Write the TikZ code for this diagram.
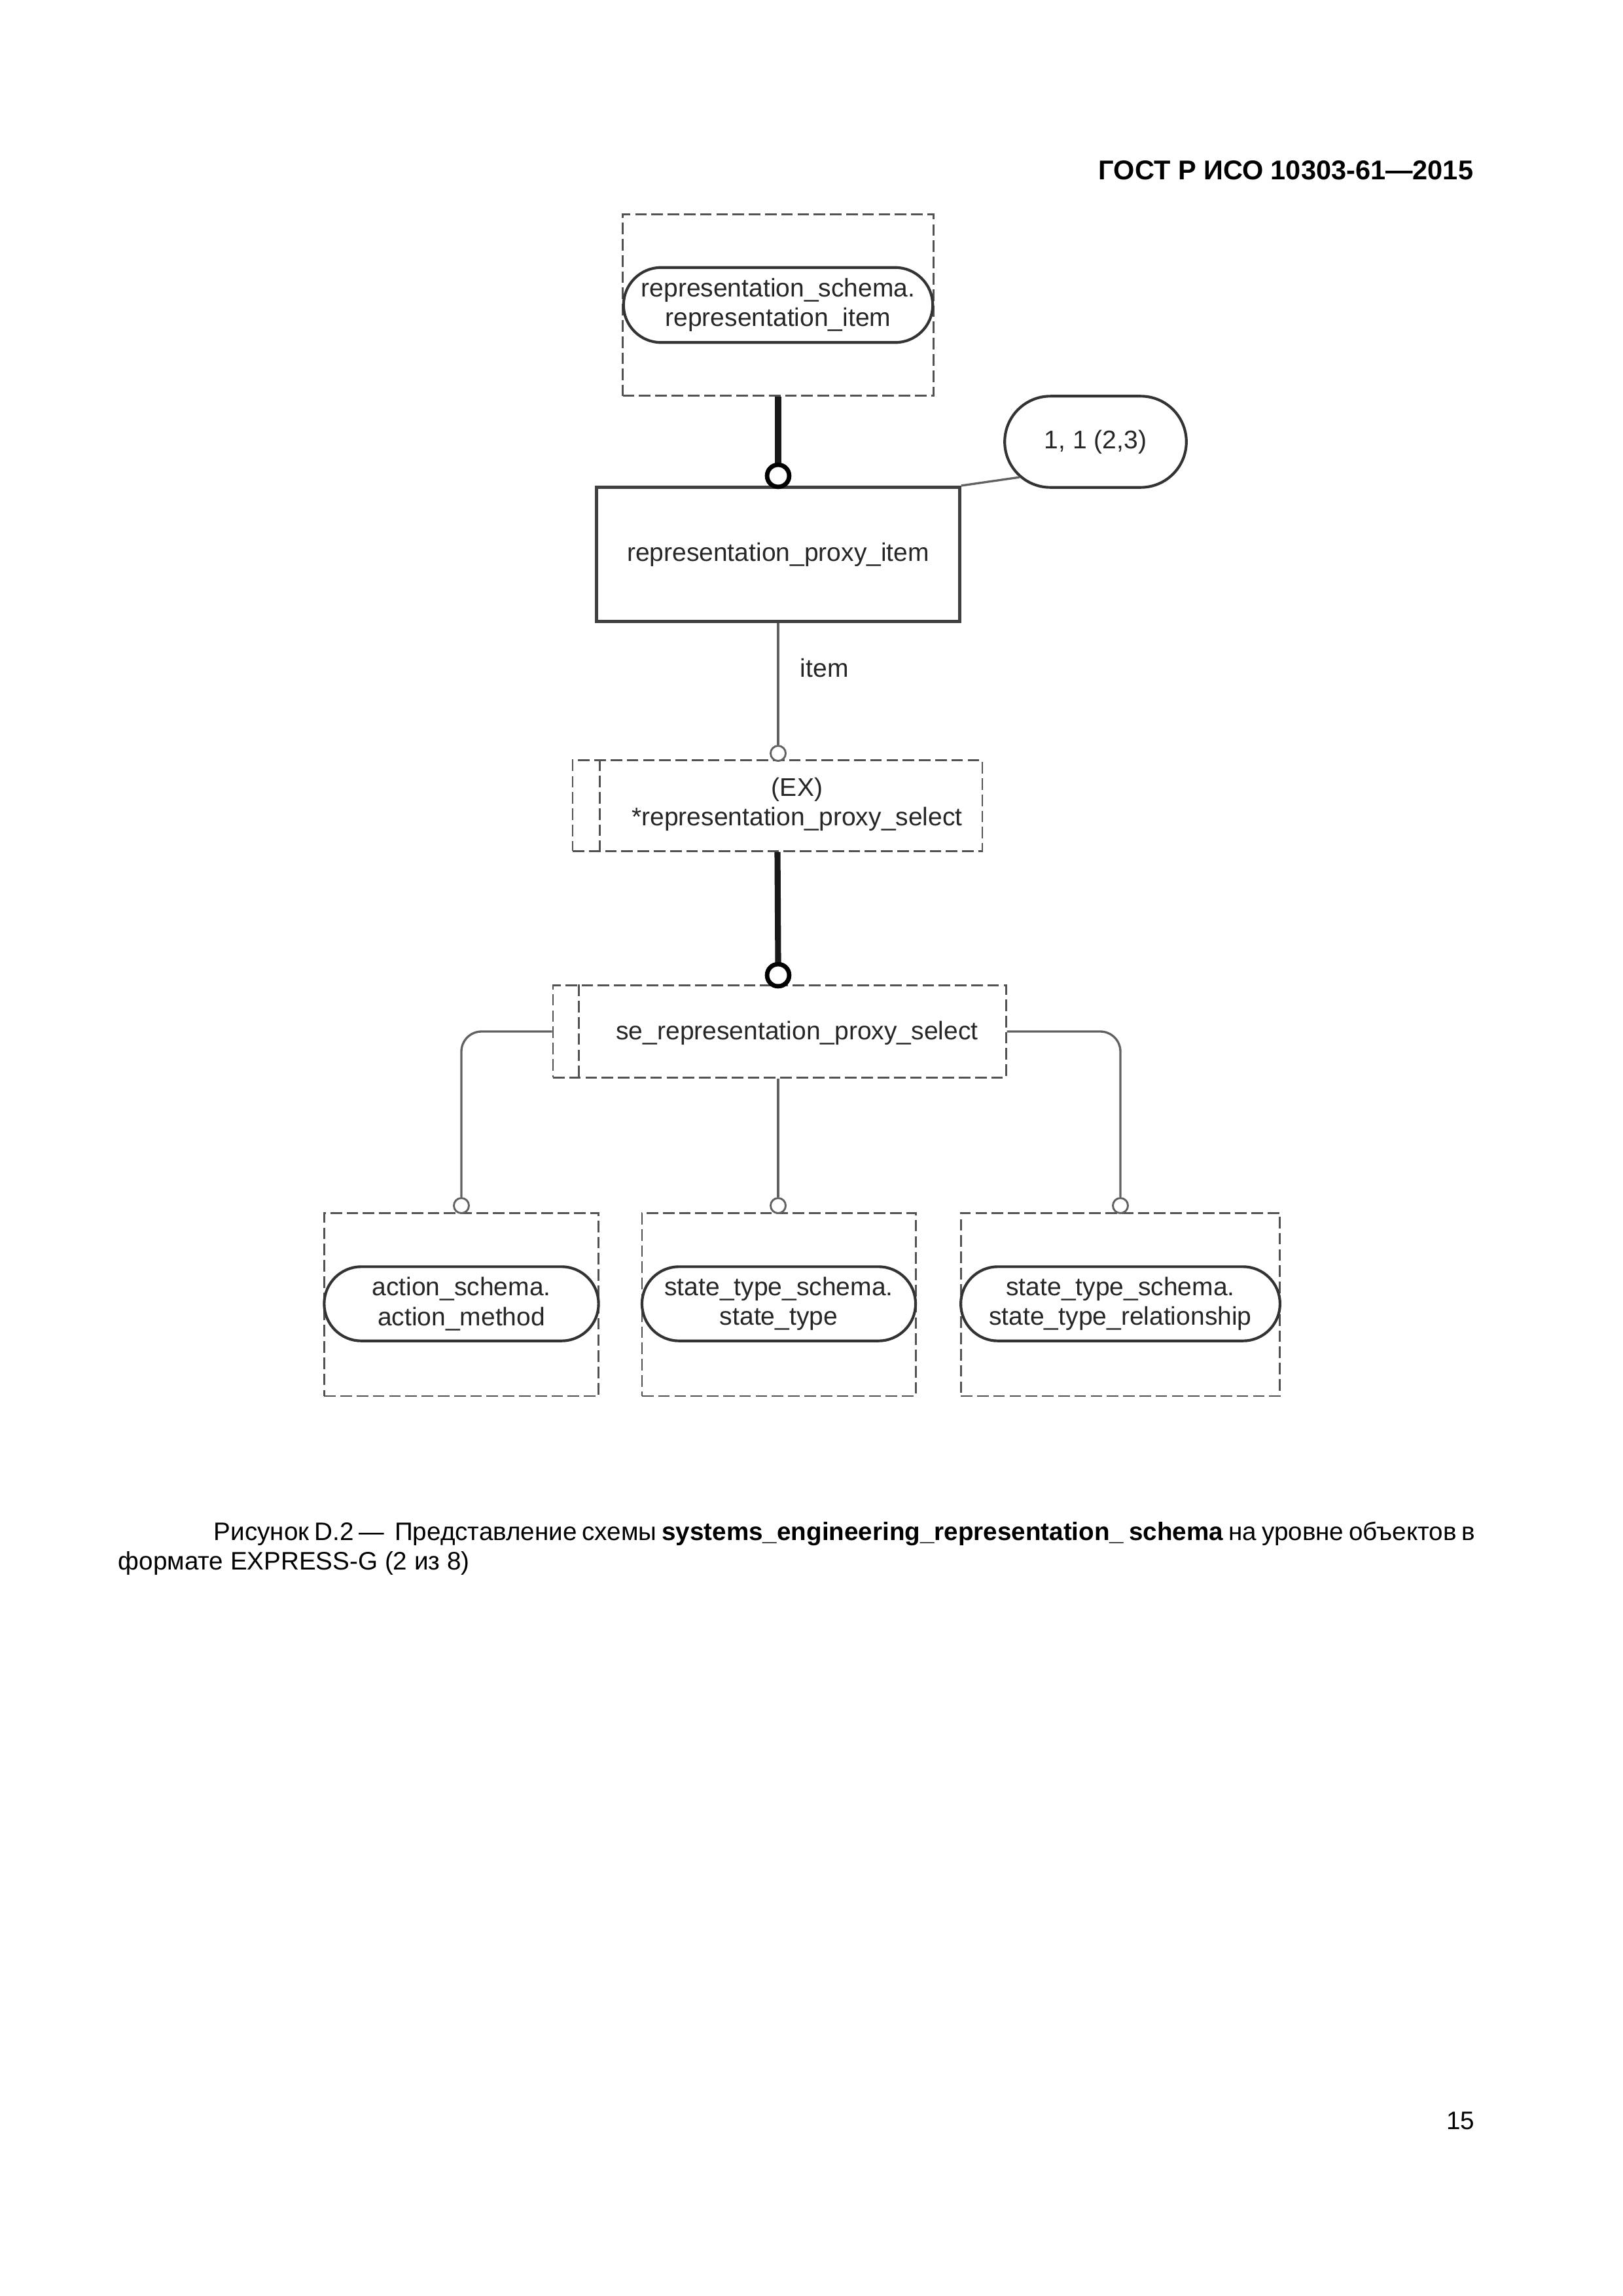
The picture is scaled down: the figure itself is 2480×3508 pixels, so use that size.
\documentclass[tikz,border=0pt]{standalone}
\usepackage{fontspec}
\setmainfont{Liberation Sans}
\usetikzlibrary{shapes.misc}
\definecolor{linegray}{gray}{0.38}
\definecolor{dashgray}{gray}{0.32}
\definecolor{txtgray}{gray}{0.15}

\begin{document}
\begin{tikzpicture}[x=0.0846667mm, y=0.0846667mm]
\tikzstyle{every node}+=[inner sep=0pt, font=\fontsize{9.4}{11}\selectfont, text=txtgray]
\tikzstyle{refbox}=[rectangle, draw=dashgray, line width=0.7pt, dash pattern=on 1.5mm off 0.6mm]
\tikzstyle{extent}=[rounded rectangle, draw=black!80, line width=1pt, align=center, fill=white]
\tikzstyle{entbox}=[rectangle, draw=black!75, line width=1.1pt]
\tikzstyle{conn}=[draw=linegray, line width=0.8pt]
\tikzstyle{thickconn}=[draw=black!90, line width=2.2pt]
\tikzstyle{bigo}=[circle, draw=black, line width=1.6pt, minimum size=2.85mm, fill=white]
\tikzstyle{smallo}=[circle, draw=linegray, line width=0.7pt, minimum size=1.95mm, fill=white]
\tikzstyle{captxt}=[text=black, font=\fontsize{9.3}{11}\selectfont]
\useasboundingbox (0,0) rectangle (2480,-3508);
% header
\node [anchor=base east, text=black, font=\fontsize{10}{12}\selectfont\bfseries] (hdr) at (2252,-274) {ГОСТ Р ИСО 10303-61—2015};
% representation_item
\node [refbox, minimum width=40.2mm, minimum height=23.5mm] (rsref) at (1189,-466) {};
\node [extent, minimum width=40.0mm, minimum height=9.7mm] (rsitem) at (1189,-466) {representation\_schema.\\representation\_item};
\node [bigo] (o1) at (1189,-727) {};
\draw [thickconn] (rsref.south) -- (o1.north);
% entity
\node [entbox, minimum width=47mm, minimum height=17.4mm] (proxy) at (1189,-847) {representation\_proxy\_item};
\node [bigo] at (o1) {};
\node [extent, minimum width=23.5mm, minimum height=11.8mm] (card) at (1674,-675) {1, 1 (2,3)};
\draw [conn] (proxy.north east) -- (card.205);
% item
\node [refbox, minimum width=53mm, minimum height=11.7mm] (exsel) at (1188,-1231) {};
\draw [refbox] ([xshift=3.64mm]exsel.north west) -- ([xshift=3.64mm]exsel.south west);
\node [align=center] (extext) at (1218,-1229) {(EX)\\*representation\_proxy\_select};
\node [smallo] (o2) at (1189,-1151) {};
\draw [conn] (proxy.south) -- (o2.north);
\node [anchor=west] (itemlbl) at (1222,-1021) {item};
% se select
\node [refbox, minimum width=58.6mm, minimum height=11.9mm] (sesel) at (1191,-1576) {};
\draw [refbox] ([xshift=3.5mm]sesel.north west) -- ([xshift=3.5mm]sesel.south west);
\node (setext) at (1218,-1578) {se\_representation\_proxy\_select};
\node [bigo] (o3) at (1189,-1490) {};
\draw [thickconn] (exsel.south) -- (o3.north);
\node [bigo] at (o3) {};
% lower references
\node [refbox, minimum width=35.5mm, minimum height=23.7mm] (amref) at (705,-1993) {};
\node [extent, minimum width=35.5mm, minimum height=9.6mm] (am) at (705,-1992) {action\_schema.\\action\_method};
\node [refbox, minimum width=35.4mm, minimum height=23.7mm] (stref) at (1190,-1993) {};
\node [extent, minimum width=35.4mm, minimum height=9.6mm] (st) at (1190,-1992) {state\_type\_schema.\\state\_type};
\node [refbox, minimum width=41.3mm, minimum height=23.7mm] (strref) at (1712,-1993) {};
\node [extent, minimum width=41.3mm, minimum height=9.6mm] (str) at (1712,-1992) {state\_type\_schema.\\state\_type\_relationship};
\node [smallo] (o4) at (705,-1842) {};
\node [smallo] (o5) at (1189,-1842) {};
\node [smallo] (o6) at (1712,-1842) {};
\draw [conn, rounded corners=2.6mm] (sesel.west) -| (o4.north);
\draw [conn] (sesel.south -| o5) -- (o5.north);
\draw [conn, rounded corners=2.6mm] (sesel.east) -| (o6.north);
% caption
\node [captxt, anchor=base west] (cap1) at (326,-2353) {\makebox[163.2mm][s]{Рисунок D.2 —\ \ Представление схемы \textbf{systems\_engineering\_representation\_ schema} на уровне объектов в}};
\node [captxt, anchor=base west] (cap2) at (180,-2398) {формате EXPRESS-G (2 из 8)};
\node [captxt, anchor=base east] (pgno) at (2254,-3253) {15};
\end{tikzpicture}
\end{document}
